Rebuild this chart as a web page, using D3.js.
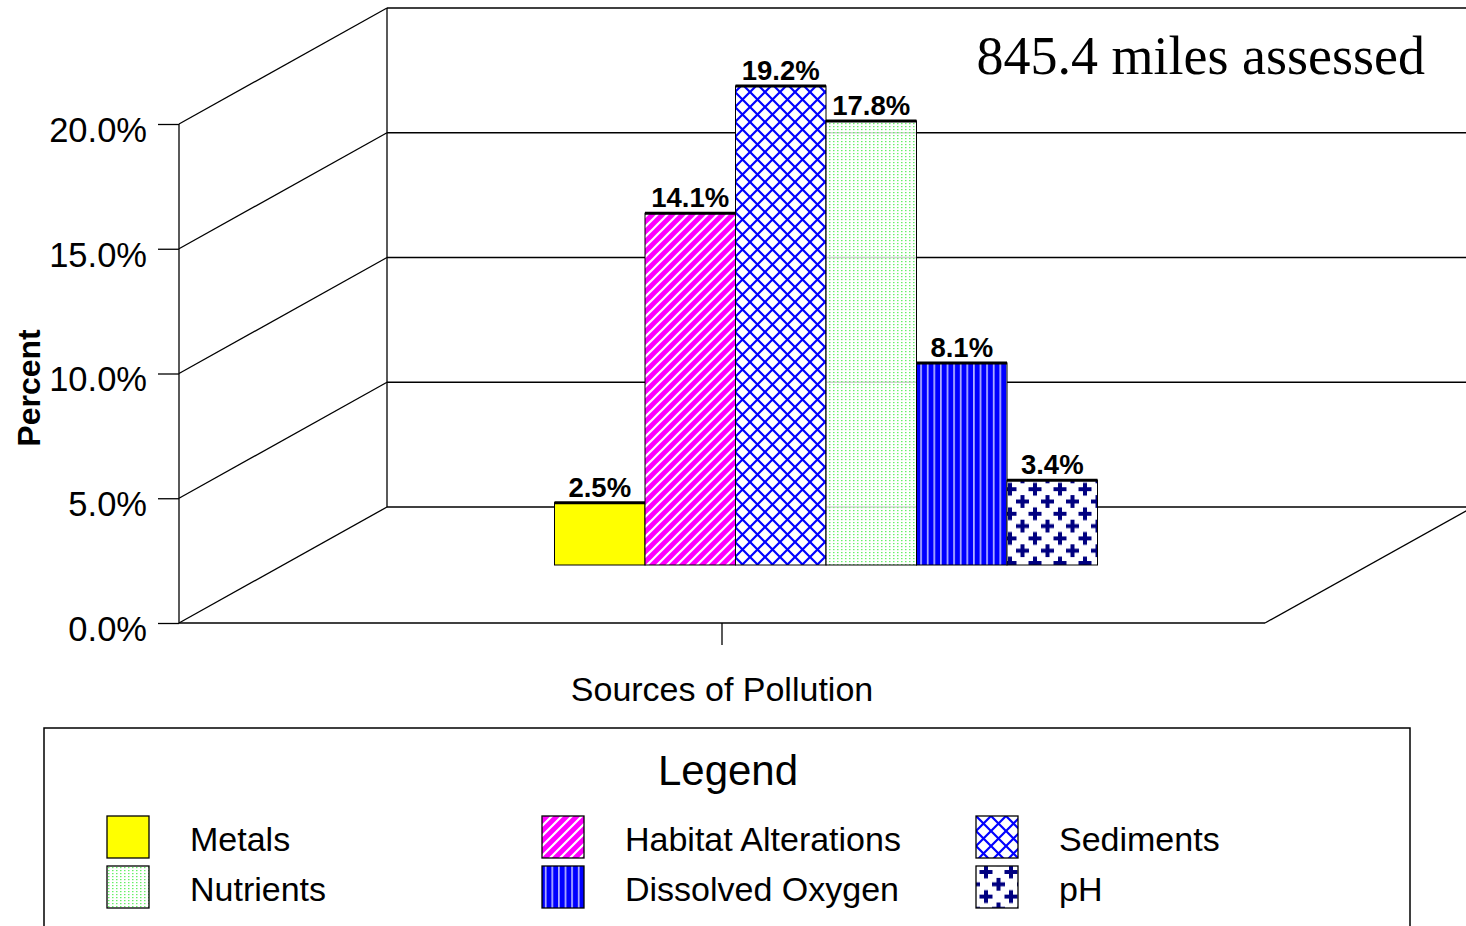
<!DOCTYPE html>
<html><head><meta charset="utf-8">
<script src="https://cdn.jsdelivr.net/npm/d3@7"></script>
<style>body{margin:0;background:#fff}</style>
</head><body>
<svg id="chart" width="1466" height="926"></svg>
<script>
// Share of assessed stream miles affected, by pollution source
const categories = ["Metals", "Habitat Alterations", "Sediments", "Nutrients", "Dissolved Oxygen", "pH"];
const values = [2.5, 14.1, 19.2, 17.8, 8.1, 3.4];
const yTicks = [0, 5, 10, 15, 20];
const groupName = ["Sources of Pollution"];
const titleText = "845.4 miles assessed";
const fills = ["url(#p-metals)", "url(#p-habitat)", "url(#p-sed)", "url(#p-nutr)", "url(#p-do)", "url(#p-ph)"];

const svg = d3.select("#chart");
const SANS = "'Liberation Sans', Arial, sans-serif";
const SERIF = "'Liberation Serif', 'Times New Roman', serif";

// pseudo-3D box: front plane plus a depth vector to the back wall
const front = { left: 179, right: 1265 };
const depth = { dx: 208, dy: -116 };
const y = d3.scaleLinear().domain([0, 20]).range([623, 124]);
const x0 = d3.scaleBand().domain(groupName).range([front.left, front.right]).paddingInner(0).paddingOuter(0.5);

// ---------- fill patterns ----------
const defs = svg.append("defs");
function pat(id, w, h) {
  return defs.append("pattern").attr("id", id).attr("patternUnits", "userSpaceOnUse")
    .attr("width", w).attr("height", h);
}
let p = pat("p-metals", 10, 10);
p.append("rect").attr("width", 10).attr("height", 10).attr("fill", "#ffff00");

p = pat("p-habitat", 10, 10);
p.append("rect").attr("width", 10).attr("height", 10).attr("fill", "#ff00ff");
p.append("path").attr("d", "M-2,12 L12,-2 M-2,2 L2,-2 M8,12 L12,8").attr("stroke", "#fff").attr("stroke-width", 2.2);

p = pat("p-sed", 15, 15);
p.append("rect").attr("width", 15).attr("height", 15).attr("fill", "#fff");
p.append("path").attr("d", "M0,0 L15,15 M0,15 L15,0").attr("stroke", "#0000ff").attr("stroke-width", 2.2);

p = pat("p-nutr", 4, 3);
p.append("rect").attr("width", 4).attr("height", 3).attr("fill", "#fff").attr("fill-opacity", 0.82);
p.append("rect").attr("x", 1).attr("y", 1).attr("width", 1.5).attr("height", 1.2).attr("fill", "#66f066");

p = pat("p-do", 6.6, 10);
p.append("rect").attr("width", 6.6).attr("height", 10).attr("fill", "#0000ff");
p.append("rect").attr("x", 3).attr("width", 1.4).attr("height", 10).attr("fill", "#d8d8ff");

p = pat("p-ph", 25, 24.6).attr("x", 10).attr("y", 6);
p.append("rect").attr("width", 25).attr("height", 24.6).attr("fill", "#fff");
const plus = (cx, cy) => `M${cx - 6.5},${cy} H${cx + 6.5} M${cx},${cy - 6.5} V${cy + 6.5}`;
p.append("path")
  .attr("d", [plus(0, 0), plus(25, 0), plus(0, 24.6), plus(25, 24.6), plus(12.5, 12.3)].join(" "))
  .attr("stroke", "#000080").attr("stroke-width", 4);

// ---------- box frame ----------
const frame = svg.append("g").attr("stroke", "#000").attr("stroke-width", 1.3).attr("fill", "none");
const backX0 = front.left + depth.dx, backX1 = front.right + depth.dx;
yTicks.forEach(t => {
  // back wall gridline
  frame.append("line").attr("x1", backX0).attr("x2", backX1)
    .attr("y1", y(t) + depth.dy).attr("y2", y(t) + depth.dy);
  // side wall diagonal
  frame.append("line").attr("x1", front.left).attr("y1", y(t))
    .attr("x2", backX0).attr("y2", y(t) + depth.dy);
});
frame.append("line").attr("x1", backX0).attr("x2", backX0)
  .attr("y1", y(0) + depth.dy).attr("y2", y(20) + depth.dy);
// floor
frame.append("line").attr("x1", front.left).attr("x2", front.right).attr("y1", y(0)).attr("y2", y(0));
frame.append("line").attr("x1", front.right).attr("y1", y(0))
  .attr("x2", front.right + depth.dx).attr("y2", y(0) + depth.dy);

// ---------- y axis ----------
const yAxis = svg.append("g").attr("transform", `translate(${front.left},0)`)
  .call(d3.axisLeft(y).tickValues(yTicks).tickSize(21).tickPadding(11)
    .tickFormat(d => d.toFixed(1) + "%"));
yAxis.select(".domain").attr("stroke", "#000").attr("stroke-width", 1.3).attr("d", `M0,${y(0)}V${y(20)}`);
yAxis.selectAll(".tick line").attr("stroke", "#000").attr("stroke-width", 1.3);
yAxis.selectAll(".tick text").attr("fill", "#000").attr("font-family", SANS)
  .attr("font-size", 34.5).attr("dy", "0.5em");

// ---------- x axis ----------
const xAxis = svg.append("g").attr("transform", `translate(0,${y(0)})`)
  .call(d3.axisBottom(x0).tickSize(22).tickFormat(""));
xAxis.select(".domain").remove();
xAxis.selectAll(".tick line").attr("stroke", "#000").attr("stroke-width", 1.3);

svg.append("text").attr("x", x0(groupName[0]) + x0.bandwidth() / 2).attr("y", 701)
  .attr("text-anchor", "middle").attr("font-family", SANS).attr("font-size", 34)
  .text(groupName[0]);

svg.append("text").attr("transform", "translate(40,388) rotate(-90)")
  .attr("text-anchor", "middle").attr("font-family", SANS).attr("font-size", 32)
  .attr("font-weight", "bold").text("Percent");

// ---------- bars (set halfway into the box) ----------
const mid = { dx: depth.dx / 2, dy: depth.dy / 2 };
const x1 = d3.scaleBand().domain(categories)
  .range([x0(groupName[0]) + mid.dx, x0(groupName[0]) + x0.bandwidth() + mid.dx]).padding(0);
const bars = svg.append("g").attr("transform", `translate(0,${mid.dy})`);
const bg = bars.selectAll("g.bar").data(categories).join("g").attr("class", "bar");
bg.append("rect")
  .attr("x", d => x1(d)).attr("width", x1.bandwidth())
  .attr("y", (d, i) => y(values[i])).attr("height", (d, i) => y(0) - y(values[i]))
  .attr("fill", (d, i) => fills[i]).attr("stroke", "#000").attr("stroke-width", 1);
bg.append("line")
  .attr("x1", d => x1(d)).attr("x2", d => x1(d) + x1.bandwidth())
  .attr("y1", (d, i) => y(values[i])).attr("y2", (d, i) => y(values[i]))
  .attr("stroke", "#000").attr("stroke-width", 3);
bg.append("text")
  .attr("x", d => x1(d) + x1.bandwidth() / 2).attr("y", (d, i) => y(values[i]) - 6)
  .attr("text-anchor", "middle").attr("font-family", SANS).attr("font-size", 27.5)
  .attr("font-weight", "bold").text((d, i) => values[i].toFixed(1) + "%");

// ---------- title ----------
svg.append("text").attr("x", 1425).attr("y", 74).attr("text-anchor", "end")
  .attr("font-family", SERIF).attr("font-size", 54).text(titleText);

// ---------- legend ----------
const lg = svg.append("g");
lg.append("rect").attr("x", 44).attr("y", 728).attr("width", 1366).attr("height", 230)
  .attr("fill", "none").attr("stroke", "#000").attr("stroke-width", 1.5);
lg.append("text").attr("x", 728).attr("y", 785).attr("text-anchor", "middle")
  .attr("font-family", SANS).attr("font-size", 42).text("Legend");
const colX = [107, 542, 976], rowY = [816, 866];
const items = lg.selectAll("g.item").data(categories).join("g").attr("class", "item")
  .attr("transform", (d, i) => `translate(${colX[i % 3]},${rowY[Math.floor(i / 3)]})`);
items.append("rect").attr("width", 42).attr("height", 42)
  .attr("fill", (d, i) => fills[i]).attr("stroke", "#000").attr("stroke-width", 1.3);
items.append("text").attr("x", 83).attr("y", 35).attr("font-family", SANS).attr("font-size", 34)
  .text(d => d);
</script>
</body></html>
